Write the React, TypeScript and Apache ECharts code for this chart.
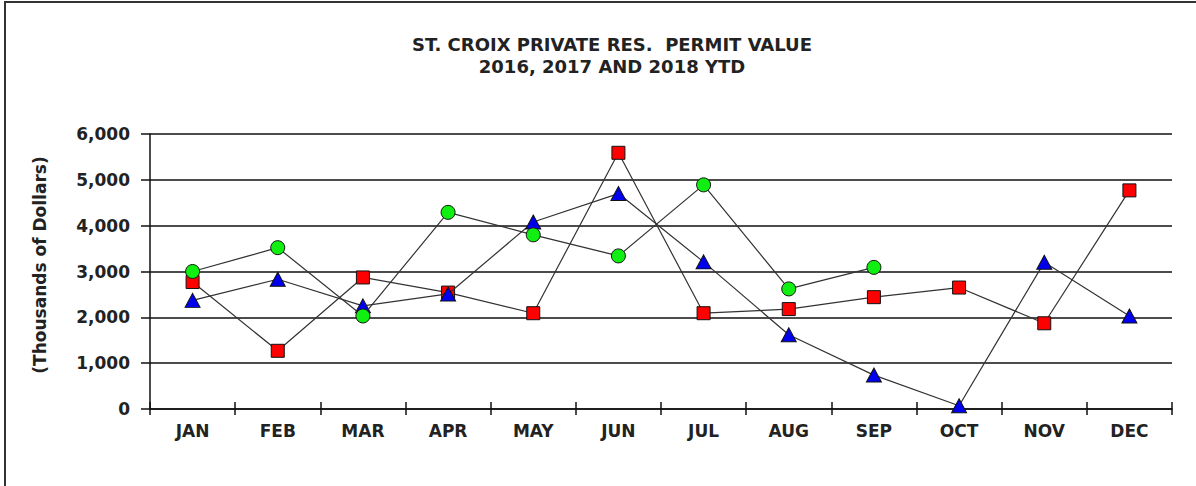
import React, { useEffect, useRef } from "react";
import * as echarts from "echarts";

const months = ["JAN", "FEB", "MAR", "APR", "MAY", "JUN", "JUL", "AUG", "SEP", "OCT", "NOV", "DEC"];
const values2016 = [2770, 1270, 2870, 2540, 2090, 5590, 2090, 2180, 2440, 2650, 1870, 4770];
const values2017 = [2370, 2830, 2250, 2510, 4080, 4700, 3210, 1620, 740, 70, 3200, 2030];
const values2018 = [3000, 3520, 2030, 4290, 3800, 3340, 4890, 2620, 3090];
const yTicks = [0, 1000, 2000, 3000, 4000, 5000, 6000];
const titleLines = ["ST. CROIX PRIVATE RES.  PERMIT VALUE", "2016, 2017 AND 2018 YTD"];
const yAxisTitle = "(Thousands of Dollars)";

const FONT = "'DejaVu Sans', 'Liberation Sans', Arial, sans-serif";

export default function App() {
  const ref = useRef<HTMLDivElement>(null);
  useEffect(() => {
    document.body.style.margin = "0";
    if (!ref.current) return;
    const chart = echarts.init(ref.current, undefined, { renderer: "svg" });
    const lineStyle = { color: "#333", width: 1.2 };
    const fmt = (v: number) => v.toLocaleString("en-US");
    chart.setOption({
      animation: false,
      backgroundColor: "#fff",
      title: {
        text: titleLines.join("\n"),
        left: 607,
        top: 28,
        textAlign: "center",
        textStyle: { fontFamily: FONT, fontSize: 18, fontWeight: "bold", color: "#222", lineHeight: 22 },
      },
      graphic: [
        {
          type: "rect",
          shape: { x: 5, y: 2, width: 1300, height: 600 },
          style: { fill: "none", stroke: "#333", lineWidth: 2 },
          silent: true,
        },
        {
          type: "text",
          x: 40,
          y: 265,
          rotation: Math.PI / 2,
          style: {
            text: yAxisTitle,
            fontFamily: FONT,
            fontSize: 17,
            fontWeight: "bold",
            fill: "#222",
            textAlign: "center",
            textVerticalAlign: "middle",
          },
        },
      ],
      grid: { left: 150, right: 24, top: 134, bottom: 77, containLabel: false },
      xAxis: [
        {
          type: "category",
          data: months,
          boundaryGap: true,
          axisLine: { lineStyle: { color: "#111", width: 1.5 } },
          axisTick: { show: true, length: 6, lineStyle: { color: "#111", width: 1.5 } },
          axisLabel: { margin: 13, fontFamily: FONT, fontSize: 17, fontWeight: "bold", color: "#222" },
        },
        {
          type: "category",
          data: months,
          position: "bottom",
          boundaryGap: true,
          axisLine: { show: false },
          axisTick: { show: true, inside: true, length: 7, lineStyle: { color: "#111", width: 1.5 } },
          axisLabel: { show: false },
        },
      ],
      yAxis: {
        type: "value",
        min: yTicks[0],
        max: yTicks[yTicks.length - 1],
        interval: 1000,
        axisLine: { show: true, lineStyle: { color: "#111", width: 1.5 } },
        axisTick: { show: true, length: 9, lineStyle: { color: "#111", width: 1.5 } },
        axisLabel: { margin: 20, fontFamily: FONT, fontSize: 17, fontWeight: "bold", color: "#222", formatter: fmt },
        splitLine: { show: true, lineStyle: { color: "#111", width: 1.5 } },
      },
      series: [
        {
          name: "2016",
          type: "line",
          data: values2016,
          symbol: "rect",
          symbolSize: 13,
          lineStyle,
          itemStyle: { color: "#ff0000", borderColor: "#111", borderWidth: 1 },
          z: 2,
        },
        {
          name: "2017",
          type: "line",
          data: values2017,
          symbol: "triangle",
          symbolSize: [15, 14],
          lineStyle,
          itemStyle: { color: "#0000ee", borderColor: "#111", borderWidth: 1 },
          z: 3,
        },
        {
          name: "2018 YTD",
          type: "line",
          data: values2018,
          symbol: "circle",
          symbolSize: 14,
          lineStyle,
          itemStyle: { color: "#11ee11", borderColor: "#111", borderWidth: 1 },
          z: 4,
        },
      ],
    });
    return () => chart.dispose();
  }, []);
  return <div ref={ref} style={{ width: 1196, height: 486 }} />;
}
